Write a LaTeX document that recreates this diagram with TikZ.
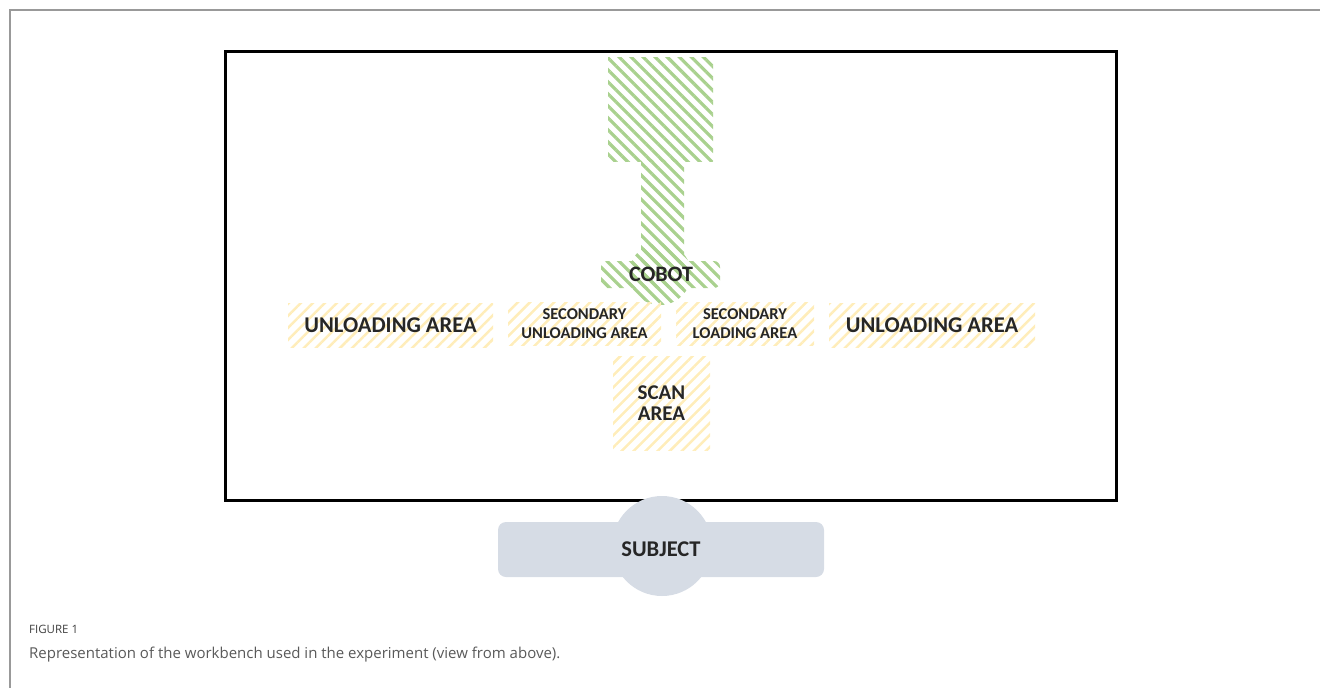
\documentclass[tikz,border=0pt]{standalone}
\usepackage{fontspec}
\setmainfont{Carlito}
\newfontfamily\capfont{Open Sans}
\usetikzlibrary{patterns.meta}
\definecolor{stripegreen}{HTML}{A9D18E}
\definecolor{stripeyellow}{HTML}{FFEDBA}
\definecolor{subjfill}{HTML}{D6DCE5}
\definecolor{labeltext}{HTML}{262626}
\definecolor{framegray}{HTML}{999999}
\begin{document}
\begin{tikzpicture}[x=1pt,y=-1pt,
  area/.style={pattern={Lines[angle=45,distance=8.5pt,line width=2.5pt]},pattern color=stripeyellow,
    inner sep=0pt,align=center,text=labeltext,font=\bfseries},
  bigarea/.style={area,font=\bfseries\fontsize{22.5}{26}\selectfont},
  smallarea/.style={area,font=\bfseries\fontsize{16.5}{19}\selectfont},
  cobotfill/.style={pattern={Lines[angle=-45,distance=8.5pt,line width=3.2pt]},pattern color=stripegreen},
  lbl/.style={inner sep=0pt,text=labeltext,align=center},
  bench/.style={draw=black,line width=3.5pt},
  subj/.style={fill=subjfill,draw=none}]
\useasboundingbox (0,0) rectangle (1320,688);
% outer frame
\draw[framegray,line width=1.5pt] (10,688) -- (10,10) -- (1320,10);
% workbench
\node[bench,minimum width=891pt,minimum height=449pt,inner sep=0pt] (bench) at (671,276) {};
% cobot
\path[cobotfill] (608,57) rectangle (713,161);
\path[cobotfill] (641,159) rectangle (684,264);
\path[cobotfill,rounded corners=6pt] (601,261) rectangle (720,288);
\path[cobotfill] (660,274) circle[radius=31pt];
\node[lbl,font=\bfseries\fontsize{22}{26}\selectfont] (cobot) at (661,274) {COBOT};
% areas
\node[bigarea,minimum width=205pt,minimum height=44pt] (unl1) at (390.5,325) {UNLOADING AREA};
\node[smallarea,minimum width=153pt,minimum height=43pt] (secunl) at (584.5,323.5) {SECONDARY\\UNLOADING AREA};
\node[smallarea,minimum width=138pt,minimum height=43pt] (secl) at (745,323.5) {SECONDARY\\LOADING AREA};
\node[bigarea,minimum width=206pt,minimum height=44pt] (unl2) at (932,325) {UNLOADING AREA};
\node[area,font=\bfseries\fontsize{21}{21}\selectfont,minimum width=97pt,minimum height=94pt] (scan) at (661.5,403) {SCAN\\AREA};
% subject
\path[subj] (662,546) circle[radius=50pt];
\path[subj,rounded corners=8pt] (498,522) rectangle (824,577);
\node[lbl,font=\bfseries\fontsize{22.5}{26}\selectfont] (subject) at (661,549) {SUBJECT};
% caption
\node[anchor=west,inner sep=0pt,text=black!75,font=\capfont\fontsize{11.5}{13}\selectfont] (fig) at (29,629) {FIGURE 1};
\node[anchor=west,inner sep=0pt,text=black!65,font=\capfont\fontsize{15}{18}\selectfont] (cap) at (29,655) {Representation of the workbench used in the experiment (view from above).};
\end{tikzpicture}
\end{document}
